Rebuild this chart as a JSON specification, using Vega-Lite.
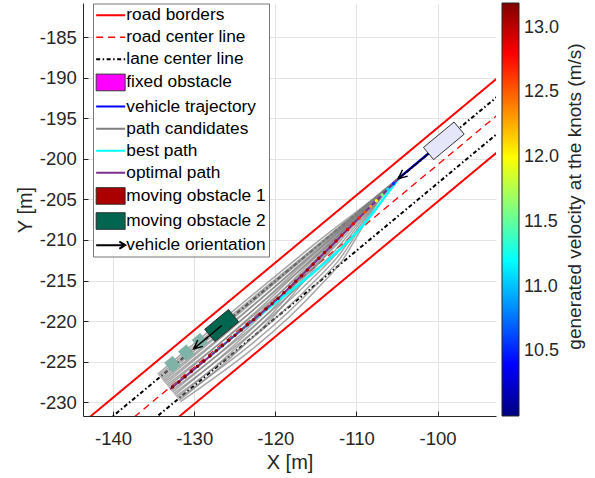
{
"$schema":"https://vega.github.io/schema/vega-lite/v6.json",
"width":413,"height":413,
"autosize":{"type":"none"},
"padding":{"left":83,"top":3,"right":99,"bottom":62},
"background":"white",
"title":{"text":"generated velocity at the knots (m/s)","orient":"right","angle":270,"frame":"group","offset":12,"anchor":"middle","baseline":"top","dx":13,"dy":-25,"fontSize":19,"fontWeight":"normal","color":"#262626","font":"Liberation Sans"},
"config":{"font":"Liberation Sans","view":{"stroke":null},
 "axis":{"labelFont":"Liberation Sans","titleFont":"Liberation Sans","domainColor":"#262626","tickColor":"#262626","gridColor":"#e3e3e3","labelColor":"#262626","titleColor":"#262626","titleFontWeight":"normal"},
 "legend":{"labelFont":"Liberation Sans","titleFont":"Liberation Sans"}},
"resolve":{"scale":{"stroke":"shared","fill":"shared","strokeDash":"shared"}},
"encoding":{
 "x":{"field":"x","type":"quantitative","scale":{"domain":[-143.7,-92.8],"nice":false,"zero":false},
  "axis":{"values":[-140,-130,-120,-110,-100],"labelExpr":"'' + datum.value","title":"X  [m]","titleFontSize":20,"titleX":206.5,"titleY":52.3,"titleBaseline":"alphabetic","titleAlign":"center","titleAnchor":null,"labelFontSize":18.5,"tickSize":-5,"labelPadding":18,"labelFlush":false,"labelOverlap":false}},
 "y":{"field":"y","type":"quantitative","scale":{"domain":[-231.68,-180.81],"nice":false,"zero":false},
  "axis":{"values":[-230,-225,-220,-215,-210,-205,-200,-195,-190,-185],"labelExpr":"'' + datum.value","title":"Y  [m]","titleFontSize":20,"titleX":-51.5,"titleY":206.5,"titleAngle":-90,"titleBaseline":"alphabetic","titleAlign":"center","titleAnchor":null,"labelFontSize":18.5,"tickSize":-5,"labelPadding":11.6,"labelFlush":false,"labelOverlap":false}}
},
"layer":[
{"data":{"values":[{"k":"u","x":-148.71,"y":-236.66},{"k":"u","x":-81.80,"y":-181.06},{"k":"l","x":-144.23,"y":-242.04},{"k":"l","x":-77.32,"y":-186.44}]},
 "mark":{"type":"line","clip":true,"strokeWidth":2},
 "encoding":{"detail":{"field":"k","type":"nominal"},
  "stroke":{"datum":"road borders","type":"nominal",
   "scale":{"domain":["road borders","road center line","lane center line","fixed obstacle","vehicle trajectory","path candidates","best path","optimal path","moving obstacle 1","moving obstacle 2","vehicle orientation"],"range":["#ff0000","#ff0000","#000000","#2b2b2b","#0000ff","#808080","#00ffff","#7e2f8e","#2b2b2b","#2b2b2b","#000000"]},
   "legend":{"orient":"none","legendX":10,"legendY":0.5,"title":null,"padding":3,"fillColor":"#ffffff","strokeColor":"#777777","labelFontSize":17.3,"labelColor":"#000000","symbolSize":210,"rowPadding":4.1,"symbolOffset":6,"labelOffset":7,"labelLimit":300,
    "encode":{"symbols":{"update":{
     "shape":{"signal":"indexof(['fixed obstacle','moving obstacle 1','moving obstacle 2'], datum.value) >= 0 ? 'M-2,-1.15H2V1.15H-2Z' : (datum.value === 'vehicle orientation' ? 'M-2,0H2M1.2,-0.5L2,0L1.2,0.5' : 'M-2,0H2')"},
     "fill":{"signal":"datum.value === 'fixed obstacle' ? '#ff00ff' : datum.value === 'moving obstacle 1' ? '#aa0000' : datum.value === 'moving obstacle 2' ? '#006650' : 'transparent'"},
     "strokeWidth":{"signal":"indexof(['fixed obstacle','moving obstacle 1','moving obstacle 2'], datum.value) >= 0 ? 1 : (datum.value === 'road center line' ? 1.3 : 2)"},
     "opacity":{"value":1}}}}}},
  "strokeDash":{"datum":"road borders","type":"nominal",
   "scale":{"domain":["road borders","road center line","lane center line","fixed obstacle","vehicle trajectory","path candidates","best path","optimal path","moving obstacle 1","moving obstacle 2","vehicle orientation"],"range":[[1,0],[7,5],[4,2.5,1.5,2.5],[1,0],[1,0],[1,0],[1,0],[1,0],[1,0],[1,0],[1,0]]}}}},
{"data":{"values":[{"x":-146.47,"y":-239.35},{"x":-79.56,"y":-183.75}]},
 "mark":{"type":"line","clip":true,"strokeWidth":1.3},
 "encoding":{
  "stroke":{"datum":"road center line","type":"nominal",
   "scale":{"domain":["road borders","road center line","lane center line","fixed obstacle","vehicle trajectory","path candidates","best path","optimal path","moving obstacle 1","moving obstacle 2","vehicle orientation"],"range":["#ff0000","#ff0000","#000000","#2b2b2b","#0000ff","#808080","#00ffff","#7e2f8e","#2b2b2b","#2b2b2b","#000000"]}},
  "strokeDash":{"datum":"road center line","type":"nominal",
   "scale":{"domain":["road borders","road center line","lane center line","fixed obstacle","vehicle trajectory","path candidates","best path","optimal path","moving obstacle 1","moving obstacle 2","vehicle orientation"],"range":[[1,0],[7,5],[4,2.5,1.5,2.5],[1,0],[1,0],[1,0],[1,0],[1,0],[1,0],[1,0],[1,0]]}}}},
{"data":{"values":[{"k":"u","x":-147.59,"y":-238.00},{"k":"u","x":-80.68,"y":-182.40},{"k":"l","x":-145.35,"y":-240.70},{"k":"l","x":-78.44,"y":-185.10}]},
 "mark":{"type":"line","clip":true,"strokeWidth":2},
 "encoding":{"detail":{"field":"k","type":"nominal"},
  "stroke":{"datum":"lane center line","type":"nominal",
   "scale":{"domain":["road borders","road center line","lane center line","fixed obstacle","vehicle trajectory","path candidates","best path","optimal path","moving obstacle 1","moving obstacle 2","vehicle orientation"],"range":["#ff0000","#ff0000","#000000","#2b2b2b","#0000ff","#808080","#00ffff","#7e2f8e","#2b2b2b","#2b2b2b","#000000"]}},
  "strokeDash":{"datum":"lane center line","type":"nominal",
   "scale":{"domain":["road borders","road center line","lane center line","fixed obstacle","vehicle trajectory","path candidates","best path","optimal path","moving obstacle 1","moving obstacle 2","vehicle orientation"],"range":[[1,0],[7,5],[4,2.5,1.5,2.5],[1,0],[1,0],[1,0],[1,0],[1,0],[1,0],[1,0],[1,0]]}}}},
{"data":{"values":[
{"p":"a1","x":-104.70,"y":-202.32},{"p":"a1","x":-107.37,"y":-205.36},{"p":"a1","x":-109.58,"y":-208.96},{"p":"a1","x":-111.78,"y":-212.57},{"p":"a1","x":-114.45,"y":-215.61},{"p":"a1","x":-131.68,"y":-229.92},
{"p":"a2","x":-104.70,"y":-202.32},{"p":"a2","x":-107.42,"y":-205.31},{"p":"a2","x":-109.72,"y":-208.79},{"p":"a2","x":-112.02,"y":-212.29},{"p":"a2","x":-114.74,"y":-215.27},{"p":"a2","x":-131.97,"y":-229.58},
{"p":"a3","x":-104.70,"y":-202.32},{"p":"a3","x":-107.46,"y":-205.25},{"p":"a3","x":-109.86,"y":-208.62},{"p":"a3","x":-112.26,"y":-212.00},{"p":"a3","x":-115.02,"y":-214.94},{"p":"a3","x":-132.25,"y":-229.25},
{"p":"a4","x":-104.70,"y":-202.32},{"p":"a4","x":-107.50,"y":-205.20},{"p":"a4","x":-110.00,"y":-208.45},{"p":"a4","x":-112.49,"y":-211.72},{"p":"a4","x":-115.30,"y":-214.60},{"p":"a4","x":-132.53,"y":-228.91},
{"p":"a5","x":-104.70,"y":-202.32},{"p":"a5","x":-107.55,"y":-205.15},{"p":"a5","x":-110.14,"y":-208.29},{"p":"a5","x":-112.73,"y":-211.43},{"p":"a5","x":-115.58,"y":-214.26},{"p":"a5","x":-132.81,"y":-228.57},
{"p":"a6","x":-104.70,"y":-202.32},{"p":"a6","x":-107.59,"y":-205.10},{"p":"a6","x":-110.28,"y":-208.12},{"p":"a6","x":-112.97,"y":-211.15},{"p":"a6","x":-115.86,"y":-213.92},{"p":"a6","x":-133.09,"y":-228.23},
{"p":"a7","x":-104.70,"y":-202.32},{"p":"a7","x":-107.63,"y":-205.04},{"p":"a7","x":-110.42,"y":-207.95},{"p":"a7","x":-113.21,"y":-210.86},{"p":"a7","x":-116.14,"y":-213.58},{"p":"a7","x":-133.37,"y":-227.89},
{"p":"a8","x":-104.70,"y":-202.32},{"p":"a8","x":-107.68,"y":-204.99},{"p":"a8","x":-110.56,"y":-207.78},{"p":"a8","x":-113.44,"y":-210.58},{"p":"a8","x":-116.42,"y":-213.24},{"p":"a8","x":-133.65,"y":-227.55},
{"p":"a9","x":-104.70,"y":-202.32},{"p":"a9","x":-107.72,"y":-204.94},{"p":"a9","x":-110.70,"y":-207.61},{"p":"a9","x":-113.68,"y":-210.29},{"p":"a9","x":-116.70,"y":-212.91},{"p":"a9","x":-133.93,"y":-227.22},
{"p":"a10","x":-104.70,"y":-202.32},{"p":"a10","x":-107.77,"y":-204.88},{"p":"a10","x":-110.84,"y":-207.44},{"p":"a10","x":-113.92,"y":-210.00},{"p":"a10","x":-116.99,"y":-212.57},{"p":"a10","x":-134.22,"y":-226.88},
{"p":"a11","x":-104.70,"y":-202.32},{"p":"a11","x":-107.81,"y":-204.83},{"p":"a11","x":-110.98,"y":-207.27},{"p":"a11","x":-114.15,"y":-209.72},{"p":"a11","x":-117.27,"y":-212.23},{"p":"a11","x":-134.50,"y":-226.54},
{"p":"b1","x":-104.70,"y":-202.32},{"p":"b1","x":-110.09,"y":-207.56},{"p":"b1","x":-115.03,"y":-213.36},{"p":"b1","x":-119.97,"y":-219.14},{"p":"b1","x":-125.37,"y":-224.38},{"p":"b1","x":-131.83,"y":-229.75},
{"p":"b2","x":-104.70,"y":-202.32},{"p":"b2","x":-110.14,"y":-207.51},{"p":"b2","x":-115.17,"y":-213.19},{"p":"b2","x":-120.21,"y":-218.86},{"p":"b2","x":-125.65,"y":-224.04},{"p":"b2","x":-132.11,"y":-229.41},
{"p":"b3","x":-104.70,"y":-202.32},{"p":"b3","x":-110.18,"y":-207.46},{"p":"b3","x":-115.31,"y":-213.02},{"p":"b3","x":-120.44,"y":-218.57},{"p":"b3","x":-125.93,"y":-223.71},{"p":"b3","x":-132.39,"y":-229.08},
{"p":"b4","x":-104.70,"y":-202.32},{"p":"b4","x":-110.22,"y":-207.40},{"p":"b4","x":-115.45,"y":-212.85},{"p":"b4","x":-120.68,"y":-218.29},{"p":"b4","x":-126.21,"y":-223.37},{"p":"b4","x":-132.67,"y":-228.74},
{"p":"b5","x":-104.70,"y":-202.32},{"p":"b5","x":-110.27,"y":-207.35},{"p":"b5","x":-115.59,"y":-212.68},{"p":"b5","x":-120.92,"y":-218.00},{"p":"b5","x":-126.49,"y":-223.03},{"p":"b5","x":-132.95,"y":-228.40},
{"p":"b6","x":-104.70,"y":-202.32},{"p":"b6","x":-110.31,"y":-207.30},{"p":"b6","x":-115.73,"y":-212.51},{"p":"b6","x":-121.16,"y":-217.71},{"p":"b6","x":-126.77,"y":-222.69},{"p":"b6","x":-133.23,"y":-228.06},
{"p":"b7","x":-104.70,"y":-202.32},{"p":"b7","x":-110.36,"y":-207.25},{"p":"b7","x":-115.87,"y":-212.34},{"p":"b7","x":-121.39,"y":-217.43},{"p":"b7","x":-127.05,"y":-222.35},{"p":"b7","x":-133.51,"y":-227.72},
{"p":"b8","x":-104.70,"y":-202.32},{"p":"b8","x":-110.40,"y":-207.19},{"p":"b8","x":-116.01,"y":-212.17},{"p":"b8","x":-121.63,"y":-217.14},{"p":"b8","x":-127.33,"y":-222.01},{"p":"b8","x":-133.79,"y":-227.38},
{"p":"b9","x":-104.70,"y":-202.32},{"p":"b9","x":-110.44,"y":-207.14},{"p":"b9","x":-116.15,"y":-212.00},{"p":"b9","x":-121.87,"y":-216.86},{"p":"b9","x":-127.61,"y":-221.68},{"p":"b9","x":-134.07,"y":-227.05},
{"p":"b10","x":-104.70,"y":-202.32},{"p":"b10","x":-110.49,"y":-207.09},{"p":"b10","x":-116.29,"y":-211.83},{"p":"b10","x":-122.11,"y":-216.57},{"p":"b10","x":-127.90,"y":-221.34},{"p":"b10","x":-134.36,"y":-226.71}
]},
 "mark":{"type":"line","clip":true,"strokeWidth":1.5,"strokeOpacity":0.7,"interpolate":"monotone"},
 "encoding":{"detail":{"field":"p","type":"nominal"},
  "stroke":{"datum":"path candidates","type":"nominal",
   "scale":{"domain":["road borders","road center line","lane center line","fixed obstacle","vehicle trajectory","path candidates","best path","optimal path","moving obstacle 1","moving obstacle 2","vehicle orientation"],"range":["#ff0000","#ff0000","#000000","#2b2b2b","#0000ff","#808080","#00ffff","#7e2f8e","#2b2b2b","#2b2b2b","#000000"]}}}},
{"data":{"values":[
{"g":"g1","o":0,"x":-129.27,"y":-221.49},{"g":"g1","o":1,"x":-128.31,"y":-222.64},{"g":"g1","o":2,"x":-129.31,"y":-223.47},{"g":"g1","o":3,"x":-130.27,"y":-222.32},{"g":"g1","o":4,"x":-129.27,"y":-221.49},
{"g":"g2","o":0,"x":-130.96,"y":-222.89},{"g":"g2","o":1,"x":-130.00,"y":-224.04},{"g":"g2","o":2,"x":-131.00,"y":-224.87},{"g":"g2","o":3,"x":-131.96,"y":-223.72},{"g":"g2","o":4,"x":-130.96,"y":-222.89},
{"g":"g3","o":0,"x":-132.66,"y":-224.30},{"g":"g3","o":1,"x":-131.70,"y":-225.45},{"g":"g3","o":2,"x":-132.70,"y":-226.28},{"g":"g3","o":3,"x":-133.66,"y":-225.13},{"g":"g3","o":4,"x":-132.66,"y":-224.30}
]},
 "mark":{"type":"line","clip":true,"fill":"#7fb3a8","stroke":"#7fb3a8","strokeWidth":0.5},
 "encoding":{"detail":{"field":"g","type":"nominal"},"order":{"field":"o","type":"quantitative"}}},
{"data":{"values":[{"o":0,"x":-125.77,"y":-218.57},{"o":1,"x":-124.52,"y":-220.07},{"o":2,"x":-127.45,"y":-222.50},{"o":3,"x":-128.70,"y":-221.00},{"o":4,"x":-125.77,"y":-218.57}]},
 "mark":{"type":"line","clip":true,"fill":"#006650","strokeWidth":1},
 "encoding":{"order":{"field":"o","type":"quantitative"},
  "stroke":{"datum":"moving obstacle 2","type":"nominal",
   "scale":{"domain":["road borders","road center line","lane center line","fixed obstacle","vehicle trajectory","path candidates","best path","optimal path","moving obstacle 1","moving obstacle 2","vehicle orientation"],"range":["#ff0000","#ff0000","#000000","#2b2b2b","#0000ff","#808080","#00ffff","#7e2f8e","#2b2b2b","#2b2b2b","#000000"]}}}},
{"data":{"values":[{"x":-104.70,"y":-202.32},{"x":-106.13,"y":-204.20},{"x":-107.66,"y":-206.26},{"x":-109.25,"y":-208.26},{"x":-110.95,"y":-210.12},{"x":-113.15,"y":-212.18},{"x":-115.42,"y":-214.13},{"x":-117.76,"y":-216.01},{"x":-120.13,"y":-217.85},{"x":-122.49,"y":-219.71},{"x":-124.82,"y":-221.60},{"x":-127.89,"y":-224.16}]},
 "mark":{"type":"line","clip":true,"strokeWidth":2.5,"interpolate":"monotone"},
 "encoding":{
  "stroke":{"datum":"best path","type":"nominal",
   "scale":{"domain":["road borders","road center line","lane center line","fixed obstacle","vehicle trajectory","path candidates","best path","optimal path","moving obstacle 1","moving obstacle 2","vehicle orientation"],"range":["#ff0000","#ff0000","#000000","#2b2b2b","#0000ff","#808080","#00ffff","#7e2f8e","#2b2b2b","#2b2b2b","#000000"]}}}},
{"data":{"values":[{"x":-104.70,"y":-202.32},{"x":-107.40,"y":-205.01},{"x":-110.24,"y":-207.86},{"x":-113.07,"y":-210.70},{"x":-115.91,"y":-213.54},{"x":-118.05,"y":-215.65},{"x":-119.50,"y":-217.04},{"x":-120.99,"y":-218.38},{"x":-123.28,"y":-220.33},{"x":-132.96,"y":-228.38}]},
 "mark":{"type":"line","clip":true,"strokeWidth":2,"interpolate":"monotone"},
 "encoding":{
  "stroke":{"datum":"optimal path","type":"nominal",
   "scale":{"domain":["road borders","road center line","lane center line","fixed obstacle","vehicle trajectory","path candidates","best path","optimal path","moving obstacle 1","moving obstacle 2","vehicle orientation"],"range":["#ff0000","#ff0000","#000000","#2b2b2b","#0000ff","#808080","#00ffff","#7e2f8e","#2b2b2b","#2b2b2b","#000000"]}}}},
{"data":{"values":[
{"x":-104.70,"y":-202.32,"v":10.0},{"x":-105.41,"y":-203.03,"v":10.55},{"x":-106.12,"y":-203.74,"v":11.1},{"x":-106.83,"y":-204.45,"v":11.6},{"x":-107.54,"y":-205.16,"v":12.0},{"x":-108.25,"y":-205.86,"v":12.3},{"x":-108.96,"y":-206.57,"v":12.52},{"x":-109.67,"y":-207.29,"v":12.68},{"x":-110.38,"y":-208.00,"v":12.8},{"x":-111.09,"y":-208.71,"v":12.88},{"x":-111.80,"y":-209.42,"v":12.94},{"x":-112.51,"y":-210.13,"v":12.98},{"x":-113.21,"y":-210.85,"v":13.01},{"x":-113.93,"y":-211.55,"v":13.03},{"x":-114.64,"y":-212.26,"v":13.05},{"x":-115.34,"y":-212.98,"v":13.06},{"x":-116.05,"y":-213.69,"v":13.07},{"x":-116.77,"y":-214.39,"v":13.08},{"x":-117.48,"y":-215.09,"v":13.09},{"x":-118.20,"y":-215.80,"v":13.1},{"x":-118.93,"y":-216.49,"v":13.11},{"x":-119.65,"y":-217.18,"v":13.12},{"x":-120.40,"y":-217.84,"v":13.12},{"x":-121.15,"y":-218.50,"v":13.13},{"x":-121.91,"y":-219.16,"v":13.14},{"x":-122.67,"y":-219.81,"v":13.14},{"x":-123.43,"y":-220.45,"v":13.15},{"x":-124.20,"y":-221.09,"v":13.15},{"x":-124.97,"y":-221.73,"v":13.16},{"x":-125.74,"y":-222.37,"v":13.16},{"x":-126.51,"y":-223.01,"v":13.17},{"x":-127.28,"y":-223.65,"v":13.17},{"x":-128.05,"y":-224.29,"v":13.17},{"x":-128.81,"y":-224.93,"v":13.18},{"x":-129.58,"y":-225.56,"v":13.18},{"x":-130.35,"y":-226.20,"v":13.18},{"x":-131.12,"y":-226.84,"v":13.19},{"x":-131.89,"y":-227.48,"v":13.19},{"x":-132.66,"y":-228.12,"v":13.19}
]},
 "mark":{"type":"point","clip":true,"filled":true,"size":12,"strokeWidth":0,"opacity":1},
 "encoding":{"fill":{"field":"v","type":"quantitative",
   "scale":{"type":"linear","domain":[10.0,10.39875,10.7975,11.19625,11.595,11.99375,12.3925,12.79125,13.19],"range":["#000080","#0000ff","#0080ff","#00ffff","#80ff80","#ffff00","#ff8000","#ff0000","#800000"],"interpolate":"rgb","zero":false,"nice":false},
   "legend":{"orient":"right","offset":6,"direction":"vertical","gradientLength":413,"gradientThickness":17,"gradientStrokeColor":"#262626","gradientStrokeWidth":1,"values":[10.5,11,11.5,12,12.5,13],"labelFontSize":18,"labelColor":"#262626","labelOffset":5,"labelOverlap":false,"title":null,"padding":0}}}},
{"data":{"values":[{"x":-99.24,"y":-197.78},{"x":-104.70,"y":-202.32}]},
 "mark":{"type":"line","clip":true,"strokeWidth":2.5},
 "encoding":{
  "stroke":{"datum":"vehicle trajectory","type":"nominal",
   "scale":{"domain":["road borders","road center line","lane center line","fixed obstacle","vehicle trajectory","path candidates","best path","optimal path","moving obstacle 1","moving obstacle 2","vehicle orientation"],"range":["#ff0000","#ff0000","#000000","#2b2b2b","#0000ff","#808080","#00ffff","#7e2f8e","#2b2b2b","#2b2b2b","#000000"]}}}},
{"data":{"values":[
{"a":"ego","o":0,"x":-99.24,"y":-197.78},{"a":"ego","o":1,"x":-104.85,"y":-202.45},{"a":"ego","o":2,"x":-104.33,"y":-201.36},{"a":"ego","o":3,"x":-104.85,"y":-202.45},{"a":"ego","o":4,"x":-103.68,"y":-202.14},
{"a":"obs","o":0,"x":-126.61,"y":-220.53},{"a":"obs","o":1,"x":-130.07,"y":-223.41},{"a":"obs","o":2,"x":-129.56,"y":-222.32},{"a":"obs","o":3,"x":-130.07,"y":-223.41},{"a":"obs","o":4,"x":-128.91,"y":-223.10}
]},
 "mark":{"type":"line","clip":true,"strokeWidth":1.4},
 "encoding":{"detail":{"field":"a","type":"nominal"},"order":{"field":"o","type":"quantitative"},
  "stroke":{"datum":"vehicle orientation","type":"nominal",
   "scale":{"domain":["road borders","road center line","lane center line","fixed obstacle","vehicle trajectory","path candidates","best path","optimal path","moving obstacle 1","moving obstacle 2","vehicle orientation"],"range":["#ff0000","#ff0000","#000000","#2b2b2b","#0000ff","#808080","#00ffff","#7e2f8e","#2b2b2b","#2b2b2b","#000000"]}}}},
{"data":{"values":[{"o":0,"x":-97.97,"y":-195.47},{"o":1,"x":-96.72,"y":-196.97},{"o":2,"x":-100.49,"y":-200.10},{"o":3,"x":-101.74,"y":-198.60},{"o":4,"x":-97.97,"y":-195.47}]},
 "mark":{"type":"line","clip":true,"fill":"#e6e6fa","stroke":"#000000","strokeWidth":0.8},
 "encoding":{"order":{"field":"o","type":"quantitative"}}}
]
}
